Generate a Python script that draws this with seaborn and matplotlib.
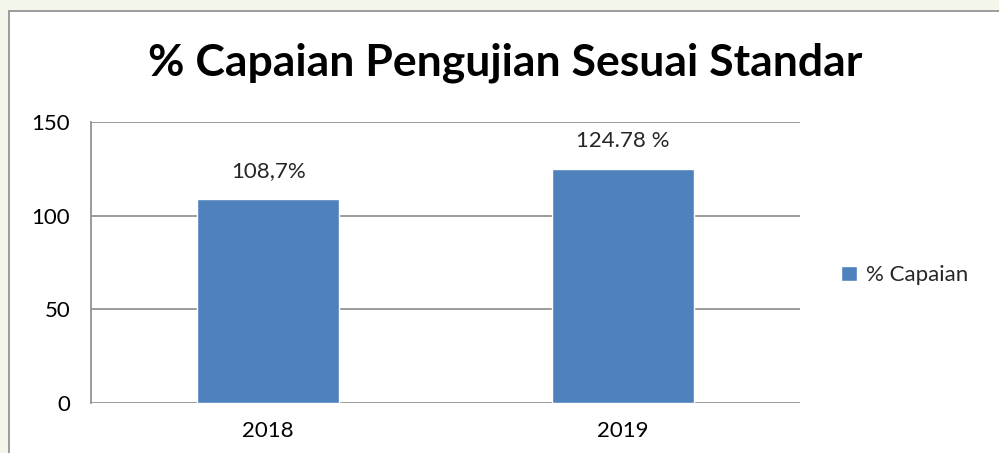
import pandas as pd
import seaborn as sns
import matplotlib.pyplot as plt
from matplotlib.patches import Rectangle

years = ['2018', '2019']
capaian = [108.7, 124.78]
value_labels = ['108,7%', '124.78 %']
series_name = '% Capaian'
title = '% Capaian Pengujian Sesuai Standar'

df = pd.DataFrame({'Tahun': years, 'Capaian': capaian})

sns.set_style('white')
plt.rcParams['font.family'] = ['Lato', 'DejaVu Sans']

fig = plt.figure(figsize=(9.99, 4.53), dpi=100, facecolor='#f3f6ea')

# chart frame, drawn on a background axes
bg = fig.add_axes([0, 0, 1, 1], zorder=-1)
bg.set_axis_off()
bg.set_xlim(0, 999)
bg.set_ylim(453, 0)
bg.add_patch(Rectangle((9, 11), 1100, 500, facecolor='white', edgecolor='#8c8c8c', linewidth=1.2))

ax = fig.add_axes([91 / 999, 1 - 403 / 453, (800 - 91) / 999, (403 - 122) / 453])
ax.set_facecolor('none')
sns.barplot(data=df, x='Tahun', y='Capaian', color='#4f81bd', width=0.4, ax=ax,
            label=series_name, saturation=1)

ax.set_xlim(-0.5, 1.5)
ax.set_ylim(0, 150)
ax.set_yticks([0, 50, 100, 150])
ax.yaxis.grid(True, color='#8a8a8a', linewidth=1.2)
ax.set_axisbelow(True)
for s in ['top', 'right', 'bottom']:
    ax.spines[s].set_visible(False)
ax.spines['left'].set_color('#8a8a8a')
ax.spines['left'].set_linewidth(1.2)
ax.tick_params(axis='y', length=5, color='#8a8a8a', width=1.2, labelsize=16, pad=10,
               labelcolor='black')
ax.tick_params(axis='x', length=0, labelsize=16, pad=13, labelcolor='black')
ax.set_xlabel('')
ax.set_ylabel('')

for i, (v, lab) in enumerate(zip(capaian, value_labels)):
    ax.annotate(lab, (i, v), xytext=(0, 13), textcoords='offset points',
                ha='center', va='bottom', fontsize=16)

fig.text(505 / 999, 1 - 63 / 453, title, ha='center', va='center',
         fontsize=32, fontweight='bold', color='black')

ax.legend(loc='center left', bbox_to_anchor=(1.03, 0.455), frameon=False,
          fontsize=16, handlelength=0.7, handleheight=0.7, handletextpad=0.4)

fig.savefig('out.png', dpi=100, facecolor=fig.get_facecolor())
